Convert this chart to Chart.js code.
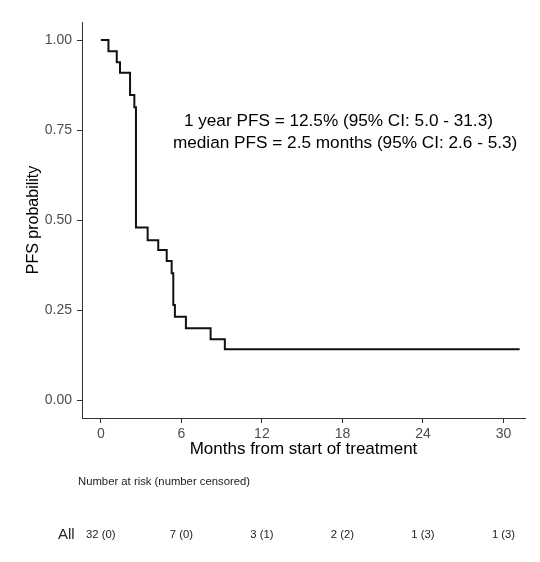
<!DOCTYPE html>
<html>
<head>
<meta charset="utf-8">
<script src="https://cdn.jsdelivr.net/npm/chart.js@4"></script>
<style>
  body { margin: 0; background: #fff; }
</style>
</head>
<body>
<canvas id="km" width="540" height="562"></canvas>
<script>
// Kaplan-Meier curve (months, PFS probability)
const months = [0, 0.57, 1.19, 1.43, 2.18, 2.50, 2.62, 3.49, 4.28, 4.91, 5.28, 5.40, 5.52, 6.34, 8.18, 9.24, 31.2];
const pfs = [1.0, 0.969, 0.938, 0.909, 0.847, 0.813, 0.479, 0.444, 0.417, 0.386, 0.352, 0.264, 0.231, 0.199, 0.169, 0.141, 0.141];

const xTicks = [0, 6, 12, 18, 24, 30];
const yTicks = [0, 0.25, 0.5, 0.75, 1.0];

// number at risk table
const riskTimes = [0, 6, 12, 18, 24, 30];
const atRisk = [32, 7, 3, 2, 1, 1];
const censored = [0, 0, 1, 2, 3, 3];

const noteLines = [
  '1 year PFS = 12.5% (95% CI: 5.0 - 31.3)',
  'median PFS = 2.5 months (95% CI: 2.6 - 5.3)'
];

const FONT = 'Arial, "Liberation Sans", sans-serif';
Chart.defaults.font.family = FONT;

const extras = {
  id: 'extras',
  beforeDraw(chart) {
    const ctx = chart.ctx;
    ctx.save();
    ctx.fillStyle = '#fff';
    ctx.fillRect(0, 0, chart.width, chart.height);
    ctx.restore();
  },
  afterDraw(chart) {
    const ctx = chart.ctx;
    const x = chart.scales.x, y = chart.scales.y;
    ctx.save();
    // annotation
    ctx.fillStyle = '#000';
    ctx.font = '17.2px ' + FONT;
    ctx.textAlign = 'center';
    ctx.textBaseline = 'middle';
    ctx.fillText(noteLines[0], x.getPixelForValue(17.7), y.getPixelForValue(0.775));
    ctx.fillText(noteLines[1], x.getPixelForValue(18.2), y.getPixelForValue(0.714));

    // risk table
    ctx.fillStyle = '#222';
    ctx.font = '11.3px ' + FONT;
    ctx.textAlign = 'left';
    ctx.fillText('Number at risk (number censored)', 78, 482);
    ctx.font = '15px ' + FONT;
    ctx.fillText('All', 58, 535);
    ctx.font = '11.3px ' + FONT;
    ctx.textAlign = 'center';
    riskTimes.forEach((t, i) => {
      ctx.fillText(atRisk[i] + ' (' + censored[i] + ')', x.getPixelForValue(t), 535);
    });
    ctx.restore();
  }
};

new Chart(document.getElementById('km'), {
  type: 'line',
  data: {
    datasets: [{
      data: months.map((m, i) => ({ x: m, y: pfs[i] })),
      stepped: 'before',
      borderColor: '#111',
      borderWidth: 2,
      pointRadius: 0,
      fill: false
    }]
  },
  options: {
    responsive: false,
    animation: false,
    layout: { padding: { top: 22, left: 0, right: 15, bottom: 98 } },
    plugins: { legend: { display: false }, tooltip: { enabled: false } },
    scales: {
      x: {
        type: 'linear',
        min: -1.4,
        max: 31.6,
        afterBuildTicks: s => { s.ticks = xTicks.map(v => ({ value: v })); },
        afterFit: s => { s.height = 46; },
        ticks: { color: '#4d4d4d', font: { size: 14 }, padding: 3 },
        grid: { drawOnChartArea: false, tickLength: 5, color: '#333' },
        border: { color: '#333', width: 1 },
        title: { display: true, text: 'Months from start of treatment', color: '#000',
                 font: { size: 17 }, padding: { top: 0, bottom: 4 } }
      },
      y: {
        min: -0.05,
        max: 1.05,
        afterBuildTicks: s => { s.ticks = yTicks.map(v => ({ value: v })); },
        afterFit: s => { s.width = 82; },
        ticks: { color: '#4d4d4d', font: { size: 14 }, padding: 5, callback: v => v.toFixed(2) },
        grid: { drawOnChartArea: false, tickLength: 5, color: '#333' },
        border: { color: '#333', width: 1 },
        title: { display: true, text: 'PFS probability', color: '#000',
                 font: { size: 16 }, padding: { top: 24, bottom: 0 } }
      }
    }
  },
  plugins: [extras]
});
</script>
</body>
</html>
